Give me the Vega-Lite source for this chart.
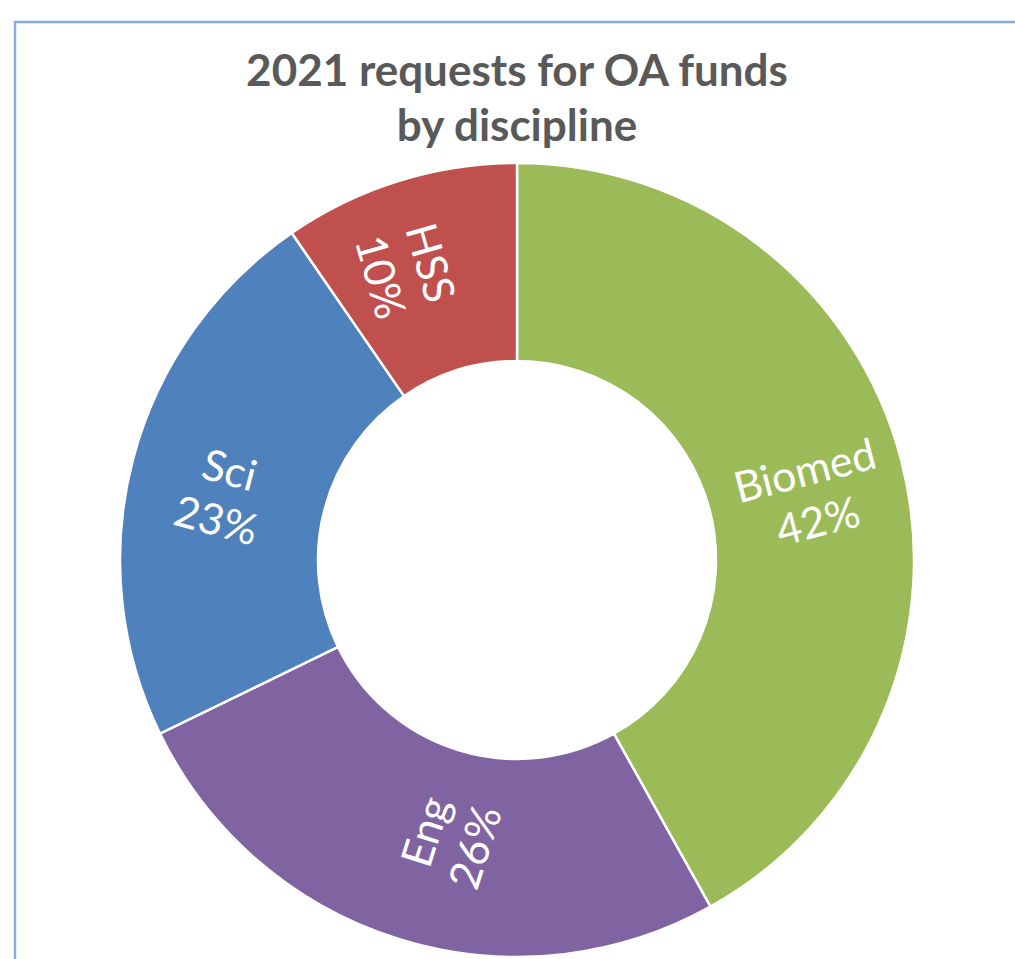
{
  "$schema": "https://vega.github.io/schema/vega-lite/v6.json",
  "width": 1004,
  "height": 1076,
  "autosize": "none",
  "padding": {"left": 15, "top": 22, "right": 0, "bottom": 0},
  "background": "white",
  "view": {"stroke": "#86ABDD", "strokeWidth": 2.5, "fill": "white"},
  "title": {
    "text": ["2021 requests for OA funds", "by discipline"],
    "font": "Lato",
    "fontSize": 44,
    "fontWeight": "bold",
    "color": "#595959",
    "lineHeight": 55,
    "anchor": "middle",
    "frame": "group",
    "baseline": "bottom",
    "offset": -172
  },
  "data": {
    "values": [
      {"discipline": "Biomed", "share": 0.419},
      {"discipline": "Eng", "share": 0.259},
      {"discipline": "Sci", "share": 0.226},
      {"discipline": "HSS", "share": 0.096}
    ]
  },
  "transform": [
    {"calculate": "datum.discipline + '\\n' + format(datum.share, '.0%')", "as": "label"}
  ],
  "encoding": {
    "theta": {"field": "share", "type": "quantitative", "stack": true},
    "order": {"field": "share", "type": "quantitative", "sort": "descending"}
  },
  "layer": [
    {
      "mark": {"type": "arc", "outerRadius": 397, "innerRadius": 199, "stroke": "white", "strokeWidth": 2.5},
      "encoding": {
        "color": {
          "field": "discipline",
          "type": "nominal",
          "scale": {"domain": ["Biomed", "Eng", "Sci", "HSS"], "range": ["#9BBB59", "#8064A2", "#4F81BD", "#C0504D"]},
          "legend": null
        }
      }
    },
    {
      "mark": {"type": "text", "radius": 298, "yOffset": -12, "font": "Lato", "fontSize": 43, "color": "white", "align": "center", "baseline": "middle", "lineBreak": "\n", "lineHeight": 52},
      "encoding": {
        "text": {"field": "label", "type": "nominal"},
        "angle": {
          "field": "discipline",
          "type": "ordinal",
          "scale": {"type": "ordinal", "domain": ["Biomed", "Eng", "Sci", "HSS"], "range": [-14.5, -72.4, 14.8, 74]},
          "legend": null
        }
      }
    }
  ]
}
